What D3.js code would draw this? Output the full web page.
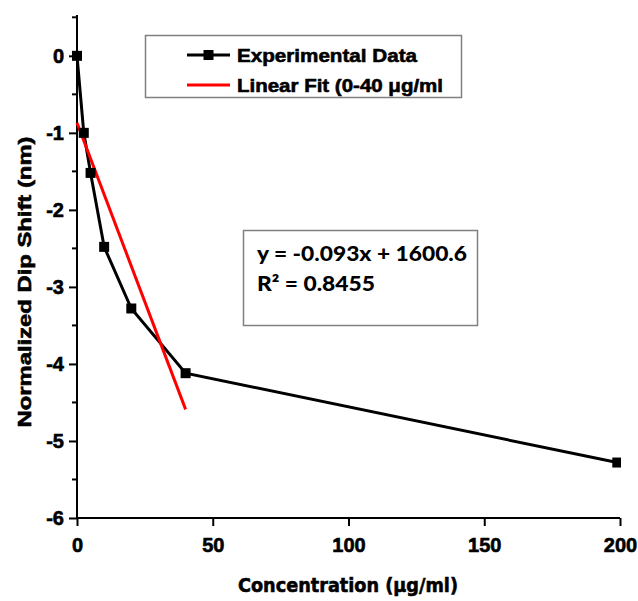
<!DOCTYPE html>
<html>
<head>
<meta charset="utf-8">
<script src="https://cdn.jsdelivr.net/npm/d3@7"></script>
<style>
  body { margin: 0; background: #fff; }
  svg { display: block; }
  .heavy { stroke: #000; stroke-width: 0.6px; paint-order: stroke; }
</style>
</head>
<body>
<div id="chart"></div>
<script>
// DATA
const concentration = [0, 2.5, 5, 10, 20, 40, 199];
const dipShift = [0, -1.0, -1.52, -2.48, -3.28, -4.12, -5.28];
const fitX = [0, 40];
const fitY = [-0.87, -4.59];
const xTicks = [0, 50, 100, 150, 200];
const yTicks = [0, -1, -2, -3, -4, -5, -6];
const yMinorTicks = [0.5, -0.5, -1.5, -2.5, -3.5, -4.5, -5.5];
const legendLabels = ["Experimental Data", "Linear Fit (0-40 \u03bcg/ml"];
const equationLines = ["y = -0.093x + 1600.6", "R\u00b2 = 0.8455"];

const W = 638, H = 601;
const margin = { top: 15, right: 18, bottom: 83, left: 77 };
const width = W - margin.left - margin.right;
const height = H - margin.top - margin.bottom;

const svg = d3.select("#chart").append("svg")
    .attr("width", W)
    .attr("height", H);

const g = svg.append("g")
    .attr("transform", `translate(${margin.left},${margin.top})`);

const xScale = d3.scaleLinear().domain([0, 200]).range([0, width]);
const yScale = d3.scaleLinear().domain([-6, 0.53]).range([height, 0]);

const tickFont = "'Liberation Sans', Arial, sans-serif";

// Y axis
const yAxis = g.append("g")
    .call(d3.axisLeft(yScale).tickValues(yTicks).tickSize(8).tickPadding(5)
        .tickFormat(d => d3.format("d")(d).replace("\u2212", "-")));
yAxis.select(".domain").attr("stroke", "#000").attr("stroke-width", 2)
    .attr("d", `M0,0V${height}`);
yAxis.selectAll(".tick line").attr("stroke-width", 2);
yAxis.selectAll("text")
    .attr("class", "heavy")
    .style("font-family", tickFont)
    .style("font-size", "20px")
    .style("font-weight", "bold")
    .attr("fill", "#000");

g.append("g")
    .selectAll("line")
    .data(yMinorTicks)
    .join("line")
    .attr("x1", -5).attr("x2", 0)
    .attr("y1", d => yScale(d)).attr("y2", d => yScale(d))
    .attr("stroke", "#000").attr("stroke-width", 2);

// X axis
const xAxis = g.append("g")
    .attr("transform", `translate(0,${height})`)
    .call(d3.axisBottom(xScale).tickValues(xTicks).tickSize(8).tickPadding(12)
        .tickFormat(d3.format("d")));
xAxis.select(".domain").attr("stroke", "#000").attr("stroke-width", 2)
    .attr("d", `M0,0H${width}`);
xAxis.selectAll(".tick line").attr("stroke-width", 2);
xAxis.selectAll("text")
    .attr("class", "heavy")
    .style("font-family", tickFont)
    .style("font-size", "20px")
    .style("font-weight", "bold")
    .attr("fill", "#000");

// axis titles
svg.append("text")
    .attr("class", "heavy")
    .attr("x", 348)
    .attr("y", 592)
    .attr("text-anchor", "middle")
    .attr("font-family", "'DejaVu Sans', Verdana, sans-serif")
    .attr("font-size", "20px")
    .attr("font-weight", "bold")
    .attr("textLength", 220)
    .attr("lengthAdjust", "spacingAndGlyphs")
    .text("Concentration (\u03bcg/ml)");

svg.append("text")
    .attr("class", "heavy")
    .attr("transform", "translate(31,282) rotate(-90)")
    .attr("text-anchor", "middle")
    .attr("font-family", tickFont)
    .attr("font-size", "19px")
    .attr("font-weight", "bold")
    .attr("textLength", 291)
    .attr("lengthAdjust", "spacingAndGlyphs")
    .text("Normalized Dip Shift (nm)");

// clip for the plot area
svg.append("clipPath").attr("id", "plot-clip")
    .append("rect")
    .attr("x", -10).attr("y", -10)
    .attr("width", width + 11).attr("height", height + 20);

const plot = g.append("g").attr("clip-path", "url(#plot-clip)");

const pts = concentration.map((c, i) => ({ x: c, y: dipShift[i] }));
const line = d3.line().x(d => xScale(d.x)).y(d => yScale(d.y));

plot.append("path")
    .datum(pts)
    .attr("fill", "none")
    .attr("stroke", "#000")
    .attr("stroke-width", 3)
    .attr("d", line);

plot.append("path")
    .datum(fitX.map((x, i) => ({ x: x, y: fitY[i] })))
    .attr("fill", "none")
    .attr("stroke", "#ff0000")
    .attr("stroke-width", 3)
    .attr("d", line);

plot.selectAll(".marker")
    .data(pts)
    .join("rect")
    .attr("class", "marker")
    .attr("x", d => xScale(d.x) - 5)
    .attr("y", d => yScale(d.y) - 5)
    .attr("width", 10)
    .attr("height", 10)
    .attr("fill", "#000");

// LEGEND
const legend = svg.append("g");
legend.append("rect")
    .attr("x", 145.5).attr("y", 35.5)
    .attr("width", 316).attr("height", 62)
    .attr("fill", "#fff")
    .attr("stroke", "#808080")
    .attr("stroke-width", 1.5);

const legendRows = legend.selectAll(".legend-item")
    .data(legendLabels)
    .join("g")
    .attr("class", "legend-item")
    .attr("transform", (d, i) => `translate(187,${55 + i * 30})`);

legendRows.append("line")
    .attr("x1", 0).attr("x2", 43)
    .attr("stroke", (d, i) => i === 0 ? "#000" : "#ff0000")
    .attr("stroke-width", 3);

legendRows.filter((d, i) => i === 0)
    .append("rect")
    .attr("x", 16.5).attr("y", -5)
    .attr("width", 10).attr("height", 10)
    .attr("fill", "#000");

legendRows.append("text")
    .attr("class", "heavy")
    .attr("x", 50)
    .attr("y", 6.5)
    .attr("font-family", tickFont)
    .attr("font-size", "19px")
    .attr("font-weight", "bold")
    .attr("textLength", (d, i) => i === 0 ? 180 : 206)
    .attr("lengthAdjust", "spacingAndGlyphs")
    .text(d => d);

// equation box
const eq = svg.append("g");
eq.append("rect")
    .attr("x", 243.5).attr("y", 230.5)
    .attr("width", 234).attr("height", 95)
    .attr("fill", "#fff")
    .attr("stroke", "#808080")
    .attr("stroke-width", 1.5);

eq.selectAll("text")
    .data(equationLines)
    .join("text")
    .attr("x", 257)
    .attr("y", (d, i) => 261 + i * 30)
    .attr("font-family", "Lato, 'Open Sans', sans-serif")
    .attr("font-size", "20px")
    .attr("font-weight", 900)
    .attr("textLength", (d, i) => i === 0 ? 210 : 118)
    .attr("lengthAdjust", "spacingAndGlyphs")
    .text(d => d);
</script>
</body>
</html>
